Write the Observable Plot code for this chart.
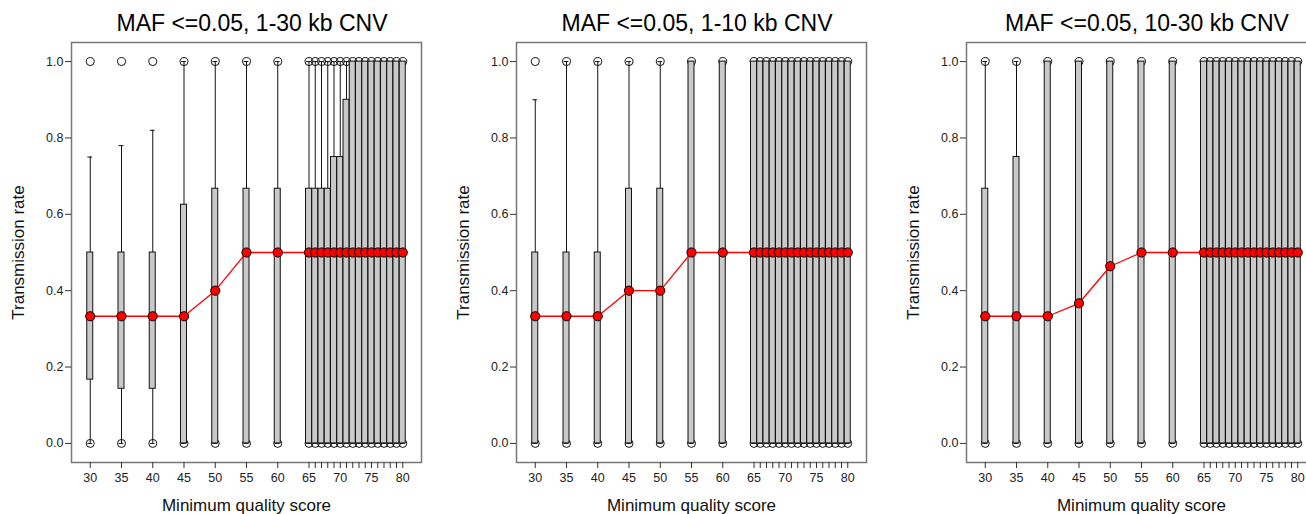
<!DOCTYPE html>
<html>
<head>
<meta charset="utf-8">
<script src="https://cdn.jsdelivr.net/npm/d3@7"></script>
<script src="https://cdn.jsdelivr.net/npm/@observablehq/plot@0.6"></script>
<style>
  html, body { margin: 0; padding: 0; background: #fff; }
  #wrap { position: relative; width: 1306px; height: 514px; overflow: hidden; background: #fff; }
  #wrap > div { position: absolute; top: 0; width: 445px; height: 514px; }
  #wrap svg { max-width: none !important; display: block; }
</style>
</head>
<body>
<div id="wrap"></div>
<script>
// Minimum quality score categories (box positions)
const xs = [30, 35, 40, 45, 50, 55, 60, 65, 66, 67, 68, 69, 70, 71, 72, 73, 74, 75, 76, 77, 78, 79, 80];
const xTickLabels = [30, 35, 40, 45, 50, 55, 60, 65, 70, 75, 80];
const yTicks = [0, 0.2, 0.4, 0.6, 0.8, 1.0];
// every box shows outlier circles at these values
const outlierValues = [0, 1];

// Panel 1: MAF <=0.05, 1-30 kb CNV
const title1 = "MAF <=0.05, 1-30 kb CNV";
const q1_1  = [0.167, 0.143, 0.143, 0, 0, 0, 0, 0, 0, 0, 0, 0, 0, 0, 0, 0, 0, 0, 0, 0, 0, 0, 0];
const med_1 = [0.333, 0.333, 0.333, 0.333, 0.4, 0.5, 0.5, 0.5, 0.5, 0.5, 0.5, 0.5, 0.5, 0.5, 0.5, 0.5, 0.5, 0.5, 0.5, 0.5, 0.5, 0.5, 0.5];
const q3_1  = [0.5, 0.5, 0.5, 0.625, 0.667, 0.667, 0.667, 0.667, 0.667, 0.667, 0.667, 0.75, 0.75, 0.9, 1, 1, 1, 1, 1, 1, 1, 1, 1];
const hi_1  = [0.75, 0.78, 0.82, 1, 1, 1, 1, 1, 1, 1, 1, 1, 1, 1, 1, 1, 1, 1, 1, 1, 1, 1, 1];
const lo_1  = [0, 0, 0, 0, 0, 0, 0, 0, 0, 0, 0, 0, 0, 0, 0, 0, 0, 0, 0, 0, 0, 0, 0];

// Panel 2: MAF <=0.05, 1-10 kb CNV
const title2 = "MAF <=0.05, 1-10 kb CNV";
const q1_2  = [0, 0, 0, 0, 0, 0, 0, 0, 0, 0, 0, 0, 0, 0, 0, 0, 0, 0, 0, 0, 0, 0, 0];
const med_2 = [0.333, 0.333, 0.333, 0.4, 0.4, 0.5, 0.5, 0.5, 0.5, 0.5, 0.5, 0.5, 0.5, 0.5, 0.5, 0.5, 0.5, 0.5, 0.5, 0.5, 0.5, 0.5, 0.5];
const q3_2  = [0.5, 0.5, 0.5, 0.667, 0.667, 1, 1, 1, 1, 1, 1, 1, 1, 1, 1, 1, 1, 1, 1, 1, 1, 1, 1];
const hi_2  = [0.9, 1, 1, 1, 1, 1, 1, 1, 1, 1, 1, 1, 1, 1, 1, 1, 1, 1, 1, 1, 1, 1, 1];
const lo_2  = [0, 0, 0, 0, 0, 0, 0, 0, 0, 0, 0, 0, 0, 0, 0, 0, 0, 0, 0, 0, 0, 0, 0];

// Panel 3: MAF <=0.05, 10-30 kb CNV
const title3 = "MAF <=0.05, 10-30 kb CNV";
const q1_3  = [0, 0, 0, 0, 0, 0, 0, 0, 0, 0, 0, 0, 0, 0, 0, 0, 0, 0, 0, 0, 0, 0, 0];
const med_3 = [0.333, 0.333, 0.333, 0.367, 0.464, 0.5, 0.5, 0.5, 0.5, 0.5, 0.5, 0.5, 0.5, 0.5, 0.5, 0.5, 0.5, 0.5, 0.5, 0.5, 0.5, 0.5, 0.5];
const q3_3  = [0.667, 0.75, 1, 1, 1, 1, 1, 1, 1, 1, 1, 1, 1, 1, 1, 1, 1, 1, 1, 1, 1, 1, 1];
const hi_3  = [1, 1, 1, 1, 1, 1, 1, 1, 1, 1, 1, 1, 1, 1, 1, 1, 1, 1, 1, 1, 1, 1, 1];
const lo_3  = [0, 0, 0, 0, 0, 0, 0, 0, 0, 0, 0, 0, 0, 0, 0, 0, 0, 0, 0, 0, 0, 0, 0];

const xLabel = "Minimum quality score";
const yLabel = "Transmission rate";

const FONT = "'Liberation Sans', Arial, Helvetica, sans-serif";
const HALF = 0.48;   // half box width (x units)
const CAP = 0.38;    // half staple width

function panel(title, q1, med, q3, hi, lo) {
  const data = xs.map((x, i) => ({x, q1: q1[i], med: med[i], q3: q3[i], hi: hi[i], lo: lo[i]}));
  const outl = data.flatMap(d => outlierValues.map(v => ({x: d.x, y: v})));
  return Plot.plot({
    width: 445,
    height: 514,
    marginLeft: 71,
    marginRight: 24,
    marginTop: 42,
    marginBottom: 52,
    style: {fontFamily: FONT, fontSize: "12.5px", color: "#222", background: "#fff", overflow: "visible"},
    x: {domain: [27, 83], axis: null},
    y: {domain: [-0.05, 1.05], axis: null},
    marks: [
      Plot.dot(outl, {x: "x", y: "y", r: 4, fill: "none", stroke: "#111", strokeWidth: 1}),
      Plot.ruleX(data.filter(d => d.hi > d.q3), {x: "x", y1: "q3", y2: "hi", stroke: "#111", strokeWidth: 1}),
      Plot.ruleX(data.filter(d => d.q1 > d.lo), {x: "x", y1: "lo", y2: "q1", stroke: "#111", strokeWidth: 1}),
      Plot.ruleY(data, {y: "hi", x1: d => d.x - CAP, x2: d => d.x + CAP, stroke: "#111", strokeWidth: 1}),
      Plot.ruleY(data, {y: "lo", x1: d => d.x - CAP, x2: d => d.x + CAP, stroke: "#111", strokeWidth: 1}),
      Plot.rect(data, {x1: d => d.x - HALF, x2: d => d.x + HALF, y1: "q1", y2: "q3", fill: "#c9c9c9", stroke: "#111", strokeWidth: 1}),
      Plot.line(data, {x: "x", y: "med", stroke: "#ff0000", strokeWidth: 1.3}),
      Plot.dot(data, {x: "x", y: "med", r: 4.6, fill: "#ff0000", stroke: "#000", strokeWidth: 1}),
      Plot.frame({stroke: "#777", strokeWidth: 1.5}),
      Plot.axisX({ticks: xs, tickFormat: d => xTickLabels.includes(d) ? String(d) : "", tickSize: 6, tickPadding: 4.5, label: null, stroke: "#333"}),
      Plot.axisY({ticks: yTicks, tickFormat: d3.format(".1f"), tickSize: 6, tickPadding: 2, label: null, stroke: "#333"}),
      Plot.text([title], {text: d => d, frameAnchor: "top", lineAnchor: "middle", textAnchor: "middle", dy: -19, dx: 5.5, fontSize: 23, fill: "#000"}),
      Plot.text([xLabel], {text: d => d, frameAnchor: "bottom", lineAnchor: "middle", textAnchor: "middle", dy: 43, fontSize: 17, fill: "#111"}),
      Plot.text([yLabel], {text: d => d, frameAnchor: "left", lineAnchor: "middle", textAnchor: "middle", dx: -52.7, rotate: -90, fontSize: 17, fill: "#111"})
    ]
  });
}

const wrap = document.getElementById("wrap");
const panels = [
  [panel(title1, q1_1, med_1, q3_1, hi_1, lo_1), 0],
  [panel(title2, q1_2, med_2, q3_2, hi_2, lo_2), 444.7],
  [panel(title3, q1_3, med_3, q3_3, hi_3, lo_3), 895.3]
];
for (const [svg, left] of panels) {
  const holder = document.createElement("div");
  holder.style.left = left + "px";
  holder.appendChild(svg);
  wrap.appendChild(holder);
}
</script>
</body>
</html>
